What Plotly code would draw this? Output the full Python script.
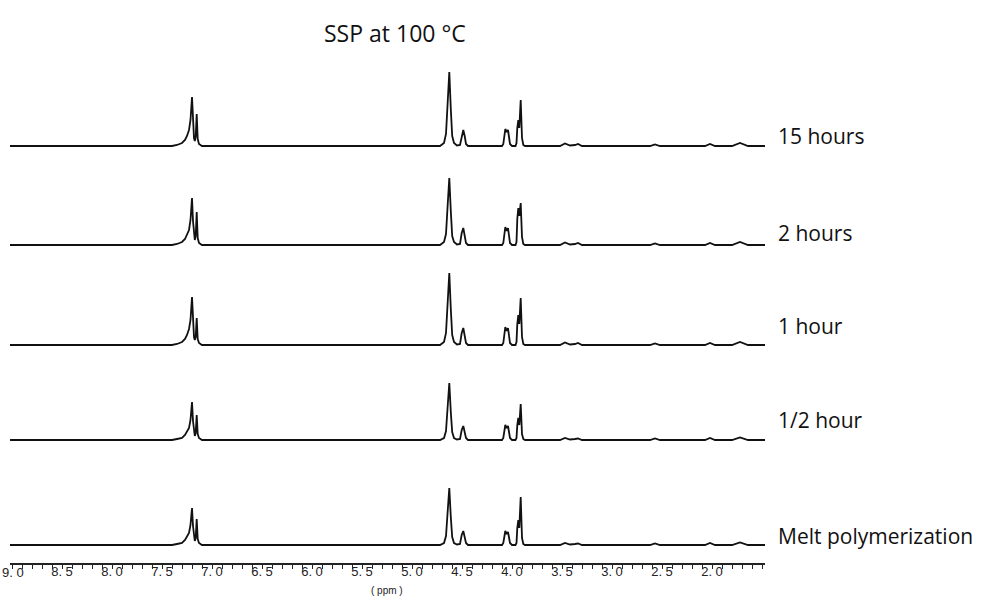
import plotly.graph_objects as go

# ---- data ----
ppm = [9.02, 7.40, 7.35, 7.30, 7.27, 7.25, 7.23, 7.215, 7.20, 7.19, 7.18, 7.172, 7.163, 7.153, 7.143, 7.13, 7.10,
       4.72, 4.68, 4.66, 4.645, 4.627, 4.612, 4.598, 4.58, 4.55,
       4.52, 4.503, 4.487, 4.473, 4.46, 4.44,
       4.10, 4.087, 4.067, 4.053, 4.04, 4.02, 4.00,
       3.965, 3.955, 3.947, 3.937, 3.927, 3.913, 3.90, 3.887, 3.87,
       3.52, 3.47, 3.42, 3.37, 3.34, 3.30,
       2.62, 2.57, 2.52,
       2.07, 2.02, 1.97,
       1.80, 1.72, 1.64, 1.47]

int_15h = [0, 0, 1, 3, 6, 10, 16, 26, 49, 25, 8, 5, 9, 32, 7, 2, 0,
           0, 3, 12, 41, 74, 37, 10, 3, 0.5,
           1, 11, 16, 10, 2, 0,
           0, 2, 17, 14, 16, 2, 0,
           0, 3, 18, 26, 18, 46, 8, 1, 0,
           0, 2.5, 0.5, 1, 2, 0,
           0, 1.5, 0,
           0, 2, 0,
           0, 3, 0, 0]
int_2h = [0, 0, 1, 3, 6, 10, 15, 25, 47, 24, 8, 5, 9, 33, 7, 2, 0,
          0, 3, 11, 37, 67, 34, 9, 3, 0.5,
          1, 12, 17, 10, 2, 0,
          0, 2, 18, 14, 17, 2, 0,
          0, 3, 26, 37, 29, 42, 8, 1, 0,
          0, 2.5, 0.5, 1, 2, 0,
          0, 1.5, 0,
          0, 2, 0,
          0, 3, 0, 0]
int_1h = [0, 0, 1, 3, 6, 10, 16, 25, 48, 24, 8, 5, 8, 27, 6, 2, 0,
          0, 3, 12, 40, 72, 36, 10, 3, 0.5,
          1, 12, 17, 10, 2, 0,
          0, 2, 18, 14, 17, 2, 0,
          0, 3, 21, 30, 21, 47, 8, 1, 0,
          0, 2.5, 0.5, 1, 2, 0,
          0, 1.5, 0,
          0, 2, 0,
          0, 3, 0, 0]
int_half = [0, 0, 1, 2, 5, 8, 12, 20, 38, 19, 6, 4, 7, 25, 6, 2, 0,
            0, 2, 9, 31, 57, 28, 8, 2, 0.5,
            1, 10, 14, 8, 2, 0,
            0, 2, 15, 12, 14, 2, 0,
            0, 2, 15, 22, 15, 36, 6, 1, 0,
            0, 2, 0.5, 1, 1.5, 0,
            0, 1.5, 0,
            0, 2, 0,
            0, 2.5, 0, 0]
int_melt = [0, 0, 1, 2, 5, 8, 12, 20, 37, 19, 6, 4, 7, 26, 6, 2, 0,
            0, 2, 9, 31, 57, 28, 8, 2, 0.5,
            1, 10, 14, 8, 2, 0,
            0, 2, 14, 11, 13, 2, 0,
            0, 2, 17, 25, 17, 48, 7, 1, 0,
            0, 2, 0.5, 1, 1.5, 0,
            0, 1.5, 0,
            0, 2, 0,
            0, 2.5, 0, 0]

labels = ["15 hours", "2 hours", "1 hour", "1/2 hour", "Melt polymerization"]
series = [int_15h, int_2h, int_1h, int_half, int_melt]

tick_vals = [9.0, 8.5, 8.0, 7.5, 7.0, 6.5, 6.0, 5.5, 5.0, 4.5, 4.0, 3.5, 3.0, 2.5, 2.0]
tick_text = ["9. 0", "8. 5", "8. 0", "7. 5", "7. 0", "6. 5", "6. 0", "5. 5", "5. 0",
             "4. 5", "4. 0", "3. 5", "3. 0", "2. 5", "2. 0"]

# ---- layout constants (stacking offsets, label positions) ----
offsets = [417, 318, 218, 123, 18]
label_y = [427, 330, 237, 143, 27]

tick_font = dict(family="Liberation Sans Narrow, Liberation Sans", size=13, color="#222222")

fig = go.Figure()
for vals, off in zip(series, offsets):
    fig.add_trace(go.Scatter(
        x=ppm, y=[v + off for v in vals], mode="lines",
        line=dict(color="#111111", width=1.8), hoverinfo="skip"))

for lab, ly in zip(labels, label_y):
    fig.add_annotation(text=lab, xref="paper", yref="y", x=1.0146, y=ly,
                       xanchor="left", yanchor="middle", showarrow=False,
                       font=dict(family="Open Sans", size=21, color="#111111"))

fig.add_annotation(text="SSP at 100 °C", xref="paper", yref="paper",
                   x=0.51, y=1.0537, xanchor="center", yanchor="middle",
                   showarrow=False,
                   font=dict(family="Open Sans", size=23, color="#111111"))

fig.add_annotation(text="( ppm )", xref="paper", yref="paper",
                   x=(387 - 10) / 755, y=-0.0537, xanchor="center", yanchor="middle",
                   showarrow=False,
                   font=dict(family="Liberation Sans", size=10, color="#222222"))

# first tick label is shifted inward (as in the reference) so it stays on the page
fig.add_annotation(text=tick_text[0], xref="paper", yref="paper",
                   x=-10 / 755, y=-0.0179, xanchor="left", yanchor="middle",
                   showarrow=False, font=tick_font)

fig.update_layout(
    width=995, height=600,
    margin=dict(l=10, r=230, t=60, b=37, autoexpand=False),
    plot_bgcolor="white", paper_bgcolor="white",
    showlegend=False,
    xaxis=dict(range=[9.02, 1.47], showgrid=False, zeroline=False, automargin=False,
               showline=True, linecolor="#222222", linewidth=1.5,
               ticks="outside", ticklen=4, tickcolor="#222222", tickwidth=1,
               tickvals=tick_vals, ticktext=[""] + tick_text[1:],
               tickfont=tick_font,
               ticklabelstandoff=-8, ticklabeloverflow="allow",
               minor=dict(ticks="outside", ticklen=4, dtick=0.1, tick0=0,
                          tickcolor="#222222", tickwidth=1, showgrid=False)),
    yaxis=dict(range=[0, 503], visible=False, fixedrange=True, automargin=False),
)

fig.write_html("out.html",
               config={"displayModeBar": False},
               post_script="document.body.style.margin='0';document.body.style.overflow='hidden';")
